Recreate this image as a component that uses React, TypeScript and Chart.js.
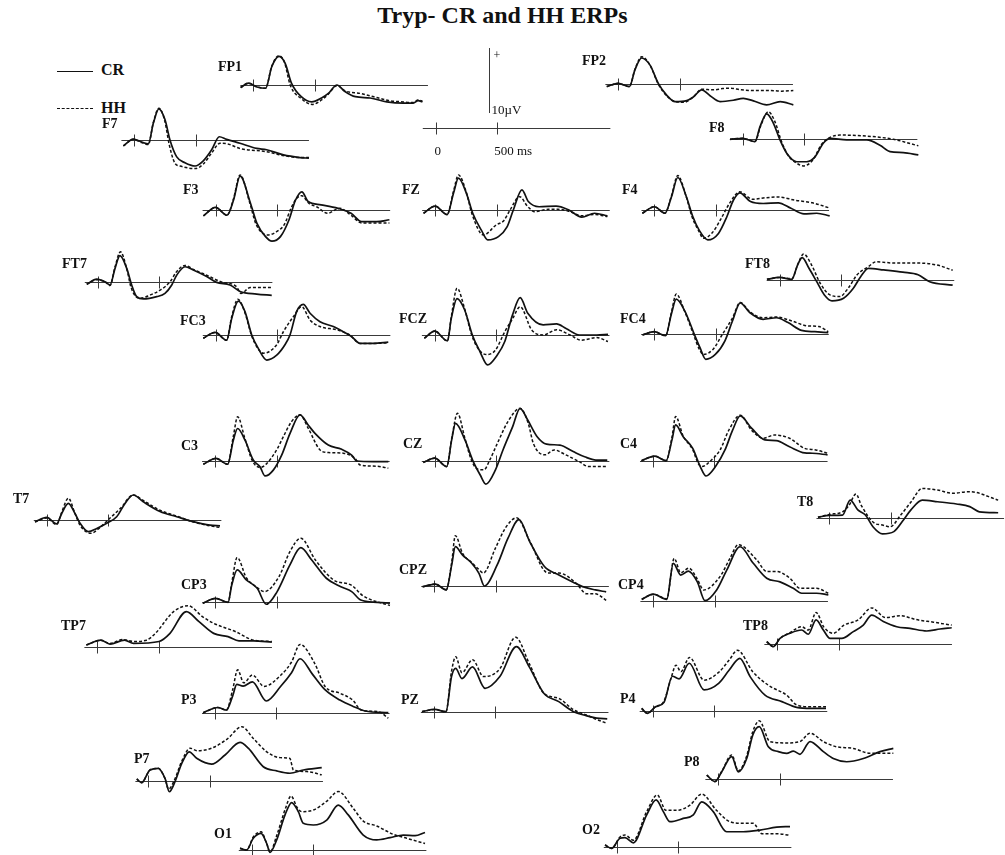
import React, { useEffect, useRef } from "react";
import { Chart, registerables } from "chart.js";

Chart.register(...registerables);

type Pt = [number, number]; // [time ms, amplitude µV]

const PX_PER_MS = 0.123;
const PX_PER_UV = 6.5;
const FONT = '"Liberation Serif", "Times New Roman", serif';
const TICKS_MS = [0, 500];
const BASE_START = -105;
const BASE_END = 1420;

// ---------------- data (ms, µV) ----------------
const FP1_CR: Pt[] = [[-103,-0.4],[-40,0.3],[30,-0.3],[100,-0.5],[150,2.8],[210,4.4],[260,3.3],[310,0.3],[390,-1.8],[475,-2.6],[555,-2.0],[610,-1.3],[680,0],[745,-1.0],[830,-1.8],[950,-2.0],[1085,-2.6],[1220,-2.8],[1300,-2.8],[1340,-2.4],[1375,-2.6]];
const FP1_HH: Pt[] = [[-103,-0.4],[-40,0.3],[30,-0.3],[100,-0.5],[150,2.9],[210,4.5],[255,3.4],[300,0],[390,-2.1],[480,-3.0],[555,-2.3],[610,-1.4],[680,-0.1],[745,-0.9],[870,-1.3],[1000,-1.9],[1100,-2.4],[1220,-2.6],[1300,-2.7],[1340,-2.3],[1375,-2.5]];
const FP2_CR: Pt[] = [[-94,-0.4],[0,0.1],[90,-0.4],[136,2.2],[190,4.0],[258,2.9],[325,0.1],[393,-1.7],[461,-2.7],[556,-2.55],[610,-2.0],[678,-0.9],[746,-1.8],[827,-2.7],[935,-2.5],[1016,-2.2],[1098,-2.6],[1206,-3.2],[1316,-2.7],[1423,-3.2]];
const FP2_HH: Pt[] = [[-94,-0.4],[0,0.1],[90,-0.4],[136,2.3],[190,4.2],[258,2.9],[325,0],[393,-1.8],[461,-2.7],[535,-2.8],[610,-2.0],[678,-0.8],[773,-0.9],[850,-0.7],[908,-0.65],[1000,-0.9],[1098,-1.0],[1233,-1.0],[1330,-1.1],[1423,-1.0]];
const F7_CR: Pt[] = [[-89,-0.9],[-8,0.15],[60,-0.3],[114,-0.6],[155,2.6],[200,4.8],[250,3.1],[290,0],[345,-2.6],[412,-3.5],[494,-4.0],[561,-3.2],[629,-1.5],[691,0.5],[751,0.1],[859,-0.5],[995,-1.3],[1076,-1.5],[1213,-2.3],[1347,-2.7],[1420,-2.8]];
const F7_HH: Pt[] = [[-89,-0.9],[-8,0.1],[60,-0.4],[114,-0.7],[155,2.7],[200,4.9],[248,2.9],[285,-0.8],[331,-3.6],[372,-4.0],[494,-4.4],[561,-3.7],[629,-2.0],[697,-0.5],[760,-0.6],[859,-1.3],[1076,-1.8],[1213,-2.4],[1347,-2.7],[1420,-2.7]];
const F8_CR: Pt[] = [[-103,0],[0,0.15],[100,-0.35],[141,1.95],[195,3.9],[249,2.5],[303,-0.1],[358,-2.15],[439,-3.45],[520,-3.45],[588,-2.7],[655,-0.6],[710,0.15],[845,-0.1],[1008,-0.1],[1116,-0.9],[1198,-1.9],[1306,-2.05],[1428,-2.4]];
const F8_HH: Pt[] = [[-103,0],[0,0.15],[100,-0.35],[145,2.0],[208,4.25],[260,2.8],[315,-0.3],[370,-2.5],[440,-3.7],[493,-4.1],[570,-3.2],[640,-0.8],[710,0.3],[791,0.65],[1008,0.5],[1225,0],[1428,-1.0]];
const F3_CR: Pt[] = [[-98,-0.9],[0,0.4],[94,-0.8],[146,1.5],[200,5.2],[285,1.0],[337,-2.05],[407,-4.1],[459,-4.8],[528,-4.1],[598,-1.5],[650,1.5],[702,2.8],[754,1.3],[858,0.8],[996,0.26],[1102,-0.5],[1188,-1.8],[1310,-1.8],[1414,-1.5]];
const F3_HH: Pt[] = [[-98,-0.9],[0,0.4],[94,-0.8],[146,1.7],[200,5.4],[280,1.0],[330,-2.2],[423,-3.85],[500,-3.3],[560,-2.2],[615,0.3],[660,1.8],[702,2.2],[760,1.0],[822,0.5],[911,-0.5],[1010,0.26],[1102,-0.8],[1188,-2.0],[1414,-2.0]];
const FZ_CR: Pt[] = [[-94,-0.5],[0,0.6],[98,-0.7],[150,2.6],[190,4.9],[254,2.6],[306,-0.5],[376,-3.1],[428,-4.6],[515,-4.1],[585,-2.6],[636,0],[706,3.1],[758,1.3],[845,0.5],[984,0.6],[1088,0],[1192,-1.1],[1296,-0.5],[1401,-0.9]];
const FZ_HH: Pt[] = [[-94,-0.5],[0,0.6],[98,-0.7],[150,2.9],[190,5.4],[254,2.7],[300,-0.6],[393,-3.85],[497,-2.3],[560,-1.6],[609,0],[688,2.05],[750,0.6],[810,-0.26],[920,0.1],[1000,0.1],[1088,-0.2],[1192,-0.9],[1296,-0.7],[1401,-1.0]];
const F4_CR: Pt[] = [[-98,-0.5],[0,0.5],[86,-0.5],[139,2.05],[190,5.0],[260,2.05],[312,-1.0],[364,-3.1],[434,-4.6],[521,-3.6],[590,-1.0],[642,1.5],[694,2.65],[781,1.3],[885,1.0],[1007,1.1],[1110,0.26],[1216,-0.6],[1320,-0.5],[1425,-0.9]];
const F4_HH: Pt[] = [[-98,-0.5],[0,0.5],[86,-0.5],[139,2.2],[190,5.3],[258,2.1],[305,-1.0],[360,-3.2],[399,-4.35],[470,-3.5],[540,-1.4],[610,1.0],[694,2.8],[798,1.65],[910,1.9],[1007,2.0],[1145,1.5],[1285,1.1],[1425,0.3]];
const FT7_CR: Pt[] = [[-89,-0.4],[-8,0.4],[59,0],[100,-0.5],[141,2.05],[181,4.0],[236,2.05],[276,-0.5],[317,-2.3],[371,-2.65],[480,-2.3],[547,-1.8],[602,-0.5],[642,1.0],[710,2.3],[777,1.8],[886,0.8],[967,-0.1],[1076,-0.5],[1157,-1.5],[1293,-1.9],[1415,-2.1]];
const FT7_HH: Pt[] = [[-89,-0.4],[-8,0.3],[59,0],[100,-0.6],[141,2.3],[185,4.6],[236,2.0],[270,-0.8],[310,-2.3],[344,-2.55],[426,-2.05],[507,-1.3],[589,0],[640,1.5],[710,2.5],[777,1.9],[886,1.0],[1000,0],[1130,-0.8],[1165,-1.8],[1240,-0.9],[1415,-0.9]];
const FT8_CR: Pt[] = [[-103,0.1],[0,0.4],[99,0.1],[146,2.3],[184,3.45],[239,1.8],[302,-0.26],[364,-2.3],[426,-3.2],[520,-2.8],[598,-1.3],[659,0.5],[722,1.8],[846,1.55],[1002,1.2],[1126,0.8],[1220,-0.26],[1407,-0.8]];
const FT8_HH: Pt[] = [[-103,0.1],[0,0.4],[99,0.2],[150,2.5],[195,4.0],[260,2.3],[330,-0.5],[410,-2.3],[489,-2.55],[560,-1.2],[630,0.8],[722,2.05],[784,2.8],[940,2.6],[1126,2.6],[1280,2.3],[1407,1.5]];
const FC3_CR: Pt[] = [[-101,-0.5],[-5,0.4],[89,-0.8],[130,2.55],[184,5.2],[238,3.6],[293,0],[346,-2.05],[415,-3.85],[496,-3.1],[563,-1.5],[604,0],[658,3.6],[712,4.7],[767,3.35],[848,2.05],[956,1.3],[1037,0.5],[1106,-0.26],[1173,-1.3],[1282,-1.3],[1403,-1.1]];
const FC3_HH: Pt[] = [[-101,-0.5],[-5,0.4],[89,-0.8],[130,2.8],[180,5.5],[238,3.4],[290,0],[340,-2.0],[387,-2.8],[496,-1.5],[550,0.5],[631,2.8],[699,4.35],[767,2.3],[848,1.3],[983,0.8],[1090,0],[1173,-1.3],[1282,-1.3],[1403,-1.2]];
const FCZ_CR: Pt[] = [[-85,-0.5],[0,0.6],[103,-0.9],[134,2.55],[181,5.6],[243,3.85],[305,0],[367,-2.55],[429,-4.6],[507,-3.1],[569,-1.0],[632,3.1],[694,5.75],[756,3.35],[881,1.55],[990,1.7],[1067,1.0],[1176,0],[1316,0],[1408,0.1]];
const FCZ_HH: Pt[] = [[-85,-0.5],[0,0.6],[103,-0.9],[134,2.8],[181,7.2],[243,4.0],[300,0],[360,-2.3],[420,-3.0],[490,-2.4],[569,0.5],[632,2.5],[694,4.35],[787,0.8],[881,0],[990,0.8],[1100,0],[1190,-0.8],[1316,-0.4],[1408,-1.0]];
const FC4_CR: Pt[] = [[-94,-0.1],[0,0.4],[94,-0.2],[140,3.1],[180,5.4],[249,3.6],[327,0],[373,-2.05],[420,-3.85],[498,-3.1],[576,-1.0],[637,2.05],[700,4.85],[777,3.35],[886,2.3],[995,2.55],[1089,1.8],[1198,0.6],[1307,0.4],[1416,0.26]];
const FC4_HH: Pt[] = [[-94,-0.1],[0,0.4],[94,-0.2],[140,3.3],[180,6.2],[249,3.5],[320,0],[365,-2.2],[400,-3.1],[480,-2.3],[555,0],[637,2.5],[700,4.9],[777,3.5],[886,2.55],[995,2.65],[1120,2.05],[1245,1.3],[1340,1.2],[1416,0.4]];
const C3_CR: Pt[] = [[-95,-0.5],[8,0.4],[103,-0.5],[149,3.2],[184,5.0],[244,3.2],[311,0.15],[366,-0.9],[407,-2.3],[474,-1.4],[542,0.9],[610,4.25],[691,7.1],[759,5.5],[813,4.25],[921,2.45],[1030,1.8],[1111,0.9],[1152,0],[1287,-0.1],[1409,-0.1]];
const C3_HH: Pt[] = [[-95,-0.5],[8,0.4],[103,-0.5],[149,3.8],[184,6.8],[244,3.4],[305,0],[366,-1.0],[420,-0.4],[501,1.7],[556,3.75],[620,6.0],[691,7.1],[759,5.0],[854,1.7],[921,1.3],[1043,1.2],[1138,0.4],[1179,-0.6],[1315,-0.8],[1409,-1.1]];
const CZ_CR: Pt[] = [[-93,-0.26],[0,0.4],[98,-0.9],[138,3.2],[169,5.75],[246,3.2],[308,0.1],[370,-2.2],[416,-3.6],[494,-1.4],[555,1.65],[633,5.2],[694,8.05],[755,6.3],[833,3.7],[910,2.55],[1018,2.4],[1126,1.4],[1219,0.6],[1311,0.1],[1403,0.1]];
const CZ_HH: Pt[] = [[-93,-0.26],[0,0.4],[98,-0.9],[140,3.6],[185,7.3],[246,3.4],[300,0],[350,-1.3],[400,-1.4],[450,0.2],[509,2.65],[601,6.2],[694,8.05],[760,5.8],[802,2.65],[895,0.9],[972,1.65],[1065,0.9],[1175,-0.15],[1250,-0.9],[1403,-0.9]];
const C4_CR: Pt[] = [[-93,0],[15,0.7],[108,0],[155,3.2],[185,5.5],[246,3.7],[324,1.9],[385,-0.9],[432,-2.35],[509,-0.9],[586,1.65],[648,4.7],[710,6.9],[802,5.0],[910,3.2],[1003,3.1],[1111,2.15],[1234,1.2],[1296,1.15],[1420,0.9]];
const C4_HH: Pt[] = [[-93,0],[15,0.7],[108,0],[155,3.6],[185,6.8],[246,3.8],[324,1.7],[370,-0.5],[400,-0.9],[470,0],[546,1.65],[620,4.8],[710,7.0],[802,4.7],[895,3.45],[988,3.95],[1111,3.45],[1234,1.9],[1325,1.65],[1420,1.15]];
const T7_CR: Pt[] = [[-95,-0.26],[0,0.4],[81,-0.6],[122,1.0],[176,2.55],[230,1.0],[271,-0.5],[338,-1.8],[407,-1.3],[488,-0.5],[569,0.5],[637,2.55],[704,3.85],[785,2.8],[921,1.3],[1057,0.5],[1192,-0.26],[1328,-0.8],[1409,-0.9]];
const T7_HH: Pt[] = [[-95,-0.3],[0,0.3],[81,-0.7],[122,1.2],[176,3.35],[230,1.0],[271,-0.8],[360,-2.05],[430,-1.2],[515,0.3],[600,1.8],[704,3.85],[785,3.0],[921,1.5],[1057,0.6],[1192,-0.3],[1328,-0.9],[1409,-1.15]];
const T8_CR: Pt[] = [[-93,0.15],[0,0.45],[107,0.5],[169,2.8],[231,1.3],[293,0.5],[354,-1.3],[432,-2.4],[524,-2.05],[602,-0.26],[663,1.3],[755,2.8],[879,2.55],[1033,2.2],[1141,1.8],[1219,1.0],[1372,0.85]];
const T8_HH: Pt[] = [[-93,0.15],[0,0.6],[107,1.0],[160,2.0],[216,3.75],[260,1.95],[370,-0.8],[420,-1.0],[493,-1.3],[580,0.5],[663,2.5],[755,4.6],[879,4.35],[1000,3.85],[1141,4.1],[1372,2.8]];
const CP3_CR: Pt[] = [[-103,-0.15],[0,0.6],[103,0],[133,2.65],[177,5.0],[251,3.45],[340,2.15],[414,-0.3],[502,1.65],[606,5.75],[694,8.4],[783,6.5],[902,3.7],[1020,2.4],[1108,1.65],[1182,0.35],[1315,0],[1419,-0.15]];
const CP3_HH: Pt[] = [[-103,-0.15],[0,0.6],[103,0],[133,3.0],[177,6.9],[251,3.8],[330,2.4],[399,1.65],[517,3.95],[606,7.8],[694,9.85],[813,6.5],[960,3.45],[1108,2.6],[1200,1.0],[1419,-0.5]];
const CPZ_CR: Pt[] = [[-94,-0.1],[9,0.3],[98,-0.6],[142,3.2],[172,6.05],[231,4.75],[305,3.5],[364,1.95],[408,0],[511,3.2],[600,7.35],[689,10.2],[777,6.8],[896,3.0],[1014,1.7],[1133,0.55],[1206,-0.1],[1310,-0.6],[1398,-0.9]];
const CPZ_HH: Pt[] = [[-94,-0.1],[9,0.3],[98,-0.6],[142,3.6],[172,7.75],[231,5.0],[305,3.6],[360,2.6],[400,2.0],[497,5.8],[585,9.1],[670,10.5],[777,6.9],[925,2.0],[1014,2.0],[1150,0.5],[1240,-1.2],[1310,-1.2],[1398,-2.2]];
const CP4_CR: Pt[] = [[-94,0.2],[0,1.0],[109,0.2],[163,5.75],[223,3.95],[285,4.55],[358,2.9],[420,0],[515,1.65],[597,4.7],[705,8.3],[813,5.75],[922,3.45],[1030,2.9],[1138,1.9],[1206,1.15],[1328,1.15],[1423,0.9]];
const CP4_HH: Pt[] = [[-94,0.2],[0,1.0],[109,0.3],[170,6.5],[223,4.3],[290,5.0],[358,3.3],[410,1.65],[542,3.7],[623,6.5],[690,8.6],[840,6.3],[922,4.5],[1003,4.5],[1111,3.45],[1192,1.9],[1328,1.9],[1423,1.15]];
const TP7_CR: Pt[] = [[-89,0.26],[29,1.0],[103,0.4],[221,1.0],[295,0.5],[502,0.8],[591,2.05],[724,5.4],[827,3.85],[946,2.05],[1063,1.55],[1152,0.9],[1271,0.9],[1419,0.7]];
const TP7_HH: Pt[] = [[-89,0.26],[29,1.0],[103,0.5],[206,1.1],[300,0.8],[400,1.0],[472,2.05],[620,5.4],[738,6.3],[857,4.6],[946,3.6],[1126,2.3],[1271,1.0],[1419,0.8]];
const TP8_CR: Pt[] = [[-86,0.4],[-33,-0.35],[22,0.9],[103,1.7],[198,2.2],[252,1.55],[315,3.75],[374,2.2],[429,0.9],[524,0.9],[618,1.95],[699,2.95],[768,4.5],[862,3.5],[971,2.7],[1079,2.45],[1215,2.05],[1323,2.35],[1418,2.55]];
const TP8_HH: Pt[] = [[-86,0.4],[-33,-0.35],[22,0.9],[103,1.8],[198,2.7],[252,2.2],[315,4.9],[380,2.6],[455,1.7],[542,2.95],[657,3.75],[768,5.6],[880,4.1],[1000,4.4],[1130,3.8],[1270,3.4],[1418,2.95]];
const P3_CR: Pt[] = [[-96,0],[24,0.8],[93,0.4],[144,2.55],[178,4.35],[229,4.1],[305,4.75],[418,1.8],[537,4.1],[623,6.15],[692,8.3],[794,5.9],[897,3.5],[1016,1.95],[1120,1.0],[1222,0.26],[1410,0]];
const P3_HH: Pt[] = [[-96,0],[24,0.8],[93,0.4],[144,3.5],[185,6.6],[235,4.6],[305,5.8],[400,4.05],[537,5.8],[623,7.8],[692,10.5],[811,7.6],[897,4.0],[1016,3.0],[1120,1.95],[1190,0.4],[1330,0.15],[1410,-0.85]];
const PZ_CR: Pt[] = [[-96,0],[7,0.35],[99,0],[144,5.4],[178,6.65],[229,5.1],[315,6.9],[417,3.6],[537,5.4],[672,10.0],[776,6.9],[896,2.8],[1016,1.55],[1136,0],[1239,-0.6],[1325,-1.0],[1410,-1.1]];
const PZ_HH: Pt[] = [[-96,0],[7,0.35],[99,0],[144,6.2],[178,8.45],[229,6.0],[315,8.0],[405,5.4],[537,6.6],[665,11.45],[776,7.4],[896,2.8],[1016,2.05],[1136,0.3],[1239,-0.5],[1325,-1.2],[1410,-1.8]];
const P4_CR: Pt[] = [[-89,0.35],[-44,-0.4],[24,0.6],[93,1.3],[161,5.3],[215,4.9],[298,7.3],[418,3.2],[537,4.2],[623,6.25],[709,8.05],[794,5.2],[914,2.4],[1051,1.4],[1171,0.5],[1290,0.35],[1410,0.35]];
const P4_HH: Pt[] = [[-89,0.35],[-44,-0.4],[24,0.6],[93,1.5],[150,5.0],[190,7.0],[230,6.0],[300,8.2],[418,4.7],[537,5.9],[623,7.8],[690,9.3],[814,6.0],[946,3.85],[1090,2.4],[1171,0.9],[1290,0.6],[1410,0.6]];
const P7_CR: Pt[] = [[-94,0.26],[-54,-0.3],[14,1.65],[81,1.9],[136,0.35],[171,-1.7],[217,-0.15],[272,2.65],[333,4.45],[393,3.45],[515,2.55],[624,3.95],[746,5.9],[813,5.0],[935,2.15],[1044,1.5],[1152,1.15],[1260,1.65],[1410,2.0]];
const P7_HH: Pt[] = [[-94,0.26],[-54,-0.3],[14,1.65],[81,1.9],[136,0.3],[165,-1.3],[217,0.3],[272,3.0],[340,5.0],[400,4.6],[515,5.0],[641,6.4],[760,8.3],[854,6.5],[963,4.45],[1071,3.55],[1150,3.45],[1180,1.65],[1290,1.4],[1410,0.9]];
const P8_CR: Pt[] = [[-94,0.65],[-27,-0.35],[28,1.15],[109,3.5],[163,1.15],[231,3.2],[280,6.8],[333,8.1],[407,5.0],[488,4.25],[556,4.0],[610,4.35],[664,3.85],[746,5.8],[854,4.25],[935,3.2],[1044,2.7],[1179,3.2],[1315,4.25],[1423,4.75]];
const P8_HH: Pt[] = [[-94,0.65],[-27,-0.35],[28,1.2],[109,3.75],[163,1.3],[231,3.6],[280,7.3],[333,9.0],[420,5.8],[556,5.6],[664,5.8],[746,7.1],[854,5.8],[962,5.0],[1098,4.75],[1233,4.0],[1423,4.0]];
const O1_CR: Pt[] = [[-95,0.26],[-41,0],[13,1.8],[76,2.55],[122,1.0],[149,-0.35],[203,1.55],[271,5.4],[325,7.3],[379,5.9],[420,4.1],[501,3.85],[610,4.6],[704,6.9],[785,5.4],[907,2.3],[1016,1.55],[1125,1.9],[1233,2.3],[1328,2.2],[1409,2.7]];
const O1_HH: Pt[] = [[-95,0.26],[-41,0],[13,2.0],[76,2.8],[122,1.0],[149,-0.3],[203,2.2],[271,6.2],[320,8.3],[370,6.5],[407,5.9],[501,6.15],[610,7.5],[704,9.0],[826,6.4],[907,4.45],[1016,3.7],[1152,2.4],[1260,1.8],[1409,1.0]];
const O2_CR: Pt[] = [[-95,0.26],[-41,-0.26],[27,1.3],[67,1.4],[135,0.6],[244,4.9],[320,7.2],[379,5.4],[433,3.85],[541,4.35],[623,4.9],[691,6.9],[785,5.4],[894,2.3],[1029,2.3],[1165,2.55],[1301,3.0],[1409,3.1]];
const O2_HH: Pt[] = [[-95,0.26],[-41,-0.26],[27,1.5],[67,1.8],[135,1.0],[244,5.4],[330,7.95],[400,5.6],[488,5.6],[596,6.4],[691,8.1],[811,5.6],[920,3.85],[1029,3.6],[1110,3.6],[1180,2.0],[1301,2.0],[1409,1.75]];

// scale bar values
const SCALE_TICKS_MS = [0, 500];
const SCALE_BAR_UV = 10;
const SCALE_BAR_FROM_UV = 2.35;
const SCALE_BAR_AT_MS = 436;

// ---------------- layout (page pixels) ----------------
interface PanelDef { name: string; cr: Pt[]; hh: Pt[]; x0: number; y0: number; lx: number; ly: number; }

const PANELS: PanelDef[] = [
  { name: "FP1", cr: FP1_CR, hh: FP1_HH, x0: 253.3, y0: 85, lx: 218, ly: 67 },
  { name: "FP2", cr: FP2_CR, hh: FP2_HH, x0: 618.3, y0: 84, lx: 582, ly: 61 },
  { name: "F7", cr: F7_CR, hh: F7_HH, x0: 134.3, y0: 140, lx: 102, ly: 124 },
  { name: "F8", cr: F8_CR, hh: F8_HH, x0: 742.7, y0: 139.3, lx: 709, ly: 128 },
  { name: "F3", cr: F3_CR, hh: F3_HH, x0: 215.5, y0: 210, lx: 183, ly: 190 },
  { name: "FZ", cr: FZ_CR, hh: FZ_HH, x0: 435.1, y0: 210, lx: 402, ly: 190 },
  { name: "F4", cr: F4_CR, hh: F4_HH, x0: 654.4, y0: 210, lx: 622, ly: 190 },
  { name: "FT7", cr: FT7_CR, hh: FT7_HH, x0: 97.7, y0: 281.7, lx: 62, ly: 264 },
  { name: "FT8", cr: FT8_CR, hh: FT8_HH, x0: 779.6, y0: 280, lx: 745, ly: 264 },
  { name: "FC3", cr: FC3_CR, hh: FC3_HH, x0: 215.7, y0: 335, lx: 180, ly: 321 },
  { name: "FCZ", cr: FCZ_CR, hh: FCZ_HH, x0: 434.8, y0: 335, lx: 399, ly: 319 },
  { name: "FC4", cr: FC4_CR, hh: FC4_HH, x0: 654.1, y0: 334.3, lx: 620, ly: 319 },
  { name: "C3", cr: C3_CR, hh: C3_HH, x0: 215, y0: 461, lx: 181, ly: 446 },
  { name: "CZ", cr: CZ_CR, hh: CZ_HH, x0: 434.7, y0: 460.7, lx: 403, ly: 444 },
  { name: "C4", cr: C4_CR, hh: C4_HH, x0: 652.9, y0: 460.7, lx: 620, ly: 444 },
  { name: "T7", cr: T7_CR, hh: T7_HH, x0: 46.7, y0: 520, lx: 13, ly: 499 },
  { name: "T8", cr: T8_CR, hh: T8_HH, x0: 829.4, y0: 518.3, lx: 797, ly: 502 },
  { name: "CP3", cr: CP3_CR, hh: CP3_HH, x0: 215.4, y0: 602.3, lx: 181, ly: 585 },
  { name: "CPZ", cr: CPZ_CR, hh: CPZ_HH, x0: 434.2, y0: 586, lx: 399, ly: 570 },
  { name: "CP4", cr: CP4_CR, hh: CP4_HH, x0: 653.3, y0: 600.7, lx: 618, ly: 585 },
  { name: "TP7", cr: TP7_CR, hh: TP7_HH, x0: 97.3, y0: 646.7, lx: 61, ly: 626 },
  { name: "TP8", cr: TP8_CR, hh: TP8_HH, x0: 777.3, y0: 644.3, lx: 743, ly: 626 },
  { name: "P3", cr: P3_CR, hh: P3_HH, x0: 214.9, y0: 712.7, lx: 181, ly: 700 },
  { name: "PZ", cr: PZ_CR, hh: PZ_HH, x0: 433.8, y0: 711.7, lx: 401, ly: 700 },
  { name: "P4", cr: P4_CR, hh: P4_HH, x0: 652.6, y0: 710.7, lx: 620, ly: 699 },
  { name: "P7", cr: P7_CR, hh: P7_HH, x0: 148.3, y0: 780.7, lx: 134, ly: 759 },
  { name: "P8", cr: P8_CR, hh: P8_HH, x0: 718.3, y0: 779.3, lx: 684, ly: 762 },
  { name: "O1", cr: O1_CR, hh: O1_HH, x0: 251.7, y0: 850, lx: 214, ly: 834 },
  { name: "O2", cr: O2_CR, hh: O2_HH, x0: 616.7, y0: 846.7, lx: 582, ly: 830 },
];

const SCALE_POS = { x0: 435.7, y0: 128.3 };

const CANVAS_W = 262;
const CANVAS_H = 150;
const PAD_L = 62;
const PAD_T = 100;
const TICK_LEN = 6;
const INK = "#111111";

function frame(x0: number, y0: number) {
  const left = Math.floor(x0 - PAD_L);
  const top = Math.floor(y0 - PAD_T);
  const xmin = (left - x0) / PX_PER_MS;
  const xmax = xmin + CANVAS_W / PX_PER_MS;
  const ymax = (y0 - top) / PX_PER_UV;
  const ymin = ymax - CANVAS_H / PX_PER_UV;
  return { left, top, xmin, xmax, ymin, ymax };
}

function baseOptions(f: ReturnType<typeof frame>): any {
  return {
    responsive: false,
    maintainAspectRatio: false,
    animation: false,
    devicePixelRatio: 1,
    events: [],
    layout: { padding: 0 },
    plugins: { legend: { display: false }, tooltip: { enabled: false }, title: { display: false } },
    scales: {
      x: { type: "linear", display: false, min: f.xmin, max: f.xmax },
      y: { type: "linear", display: false, min: f.ymin, max: f.ymax },
    },
  };
}

function drawAxisLine(chart: any, from: number, to: number, ticks: number[]) {
  const ctx = chart.ctx;
  const xs = chart.scales.x;
  const ys = chart.scales.y;
  const yb = Math.round(ys.getPixelForValue(0)) + 0.5;
  ctx.save();
  ctx.strokeStyle = "#3a3a3a";
  ctx.lineWidth = 1;
  ctx.beginPath();
  ctx.moveTo(xs.getPixelForValue(from), yb);
  ctx.lineTo(xs.getPixelForValue(to), yb);
  for (const t of ticks) {
    const px = Math.round(xs.getPixelForValue(t)) + 0.5;
    ctx.moveTo(px, yb - TICK_LEN);
    ctx.lineTo(px, yb + TICK_LEN);
  }
  ctx.stroke();
  ctx.restore();
}

function Panel({ def }: { def: PanelDef }) {
  const ref = useRef<HTMLCanvasElement>(null);
  const f = frame(def.x0, def.y0);
  useEffect(() => {
    const deco = {
      id: "deco",
      beforeDatasetsDraw(chart: any) {
        drawAxisLine(chart, BASE_START, BASE_END, TICKS_MS);
      },
      afterDraw(chart: any) {
        const ctx = chart.ctx;
        ctx.save();
        ctx.font = `bold 14px ${FONT}`;
        ctx.fillStyle = INK;
        ctx.textBaseline = "middle";
        ctx.textAlign = "left";
        ctx.fillText(def.name, def.lx - f.left, def.ly - f.top);
        ctx.restore();
      },
    };
    const chart = new Chart(ref.current as HTMLCanvasElement, {
      type: "line",
      data: {
        datasets: [
          {
            label: "CR",
            data: def.cr.map(([x, y]) => ({ x, y })),
            borderColor: INK,
            borderWidth: 1.7,
            pointRadius: 0,
            fill: false,
            cubicInterpolationMode: "monotone",
          },
          {
            label: "HH",
            data: def.hh.map(([x, y]) => ({ x, y })),
            borderColor: INK,
            borderWidth: 1.5,
            borderDash: [3, 2],
            pointRadius: 0,
            fill: false,
            cubicInterpolationMode: "monotone",
          },
        ],
      } as any,
      options: baseOptions(f),
      plugins: [deco],
    });
    return () => chart.destroy();
  }, []);
  return (
    <canvas
      ref={ref}
      width={CANVAS_W}
      height={CANVAS_H}
      style={{ position: "absolute", left: f.left, top: f.top, width: CANVAS_W, height: CANVAS_H }}
    />
  );
}

function ScaleBar() {
  const ref = useRef<HTMLCanvasElement>(null);
  const f = frame(SCALE_POS.x0, SCALE_POS.y0);
  useEffect(() => {
    const deco = {
      id: "scaledeco",
      beforeDatasetsDraw(chart: any) {
        drawAxisLine(chart, BASE_START, BASE_END, SCALE_TICKS_MS);
        const ctx = chart.ctx;
        const xs = chart.scales.x;
        const ys = chart.scales.y;
        const bx = Math.round(xs.getPixelForValue(SCALE_BAR_AT_MS)) + 0.5;
        const yTop = ys.getPixelForValue(SCALE_BAR_FROM_UV + SCALE_BAR_UV);
        const yBot = ys.getPixelForValue(SCALE_BAR_FROM_UV);
        ctx.save();
        ctx.strokeStyle = "#3a3a3a";
        ctx.lineWidth = 1;
        ctx.beginPath();
        ctx.moveTo(bx, yTop);
        ctx.lineTo(bx, yBot);
        ctx.stroke();
        ctx.fillStyle = INK;
        ctx.font = `12px ${FONT}`;
        ctx.textBaseline = "middle";
        ctx.textAlign = "left";
        ctx.fillText("+", bx + 4, yTop + 8);
        ctx.font = `13px ${FONT}`;
        ctx.fillText(`${SCALE_BAR_UV}\u00B5V`, bx + 2, yBot - 2);
        const yb = ys.getPixelForValue(0);
        ctx.textAlign = "center";
        ctx.fillText(String(SCALE_TICKS_MS[0]), xs.getPixelForValue(SCALE_TICKS_MS[0]) + 2, yb + 23);
        ctx.textAlign = "left";
        ctx.fillText(`${SCALE_TICKS_MS[1]} ms`, xs.getPixelForValue(SCALE_TICKS_MS[1]) - 3, yb + 23);
        ctx.restore();
      },
    };
    const chart = new Chart(ref.current as HTMLCanvasElement, {
      type: "line",
      data: { datasets: [] },
      options: baseOptions(f),
      plugins: [deco],
    });
    return () => chart.destroy();
  }, []);
  return (
    <canvas
      ref={ref}
      width={CANVAS_W}
      height={CANVAS_H}
      style={{ position: "absolute", left: f.left, top: f.top, width: CANVAS_W, height: CANVAS_H }}
    />
  );
}

export default function App() {
  return (
    <div
      style={{
        position: "absolute",
        left: 0,
        top: 0,
        width: 1005,
        height: 855,
        background: "#ffffff",
        overflow: "hidden",
        fontFamily: FONT,
        color: INK,
      }}
    >
      <div
        style={{
          position: "absolute",
          left: 0,
          width: 1005,
          top: 1,
          textAlign: "center",
          fontWeight: "bold",
          fontSize: 24,
          lineHeight: "28px",
        }}
      >
        Tryp- CR and HH ERPs
      </div>
      {/* legend */}
      <div style={{ position: "absolute", left: 57, top: 71, width: 36, borderTop: `1.5px solid ${INK}` }} />
      <div style={{ position: "absolute", left: 101, top: 60, fontWeight: "bold", fontSize: 16, lineHeight: "19px" }}>CR</div>
      <div style={{ position: "absolute", left: 57, top: 108, width: 36, borderTop: `1.5px dashed ${INK}` }} />
      <div style={{ position: "absolute", left: 101, top: 98, fontWeight: "bold", fontSize: 16, lineHeight: "19px" }}>HH</div>
      <ScaleBar />
      {PANELS.map((p) => (
        <Panel key={p.name} def={p} />
      ))}
    </div>
  );
}
